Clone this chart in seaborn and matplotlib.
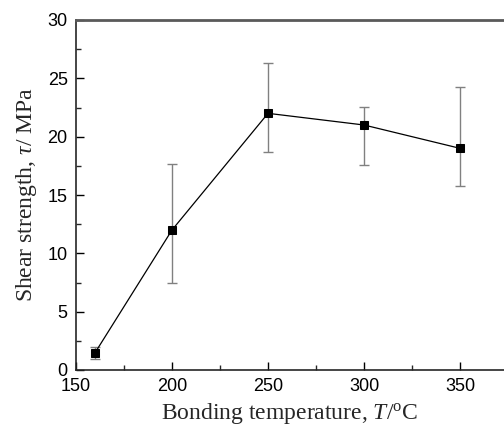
import pandas as pd
import seaborn as sns
import matplotlib.pyplot as plt
from matplotlib.ticker import MultipleLocator

# data
temperature = [160, 200, 250, 300, 350]
shear_strength = [1.5, 12.0, 22.0, 21.0, 19.0]
err_low = [0.95, 7.5, 18.65, 17.55, 15.8]
err_high = [2.0, 17.7, 26.3, 22.55, 24.3]

df = pd.DataFrame({"T": temperature, "tau": shear_strength})

sns.set_style("ticks")
plt.rcParams["font.family"] = ["Liberation Sans", "DejaVu Sans"]
plt.rcParams["mathtext.fontset"] = "custom"
plt.rcParams["mathtext.rm"] = "Liberation Serif"
plt.rcParams["mathtext.it"] = "Liberation Serif:italic"

fig = plt.figure(figsize=(5.04, 4.28), dpi=100)
ax = fig.add_axes([76 / 504, 1 - 370 / 428, 1 - 76 / 504, 350 / 428])

# error bars (grey, capped)
lower = [v - lo for v, lo in zip(shear_strength, err_low)]
upper = [hi - v for v, hi in zip(shear_strength, err_high)]
ax.errorbar(temperature, shear_strength, yerr=[lower, upper], fmt="none",
            ecolor="#808080", elinewidth=1.0, capsize=3.3, capthick=1.0, zorder=1)

# line with square markers
sns.lineplot(data=df, x="T", y="tau", ax=ax, color="black", linewidth=0.9,
             marker="s", markersize=5.5, markeredgecolor="black", zorder=3)

ax.set_xlim(150, 372.9)
ax.set_ylim(0, 30)
ax.xaxis.set_major_locator(MultipleLocator(50))
ax.xaxis.set_minor_locator(MultipleLocator(25))
ax.yaxis.set_major_locator(MultipleLocator(5))
ax.yaxis.set_minor_locator(MultipleLocator(2.5))
ax.tick_params(which="major", direction="in", length=6, width=1, labelsize=13,
               colors="black")
ax.tick_params(which="minor", direction="in", length=3.5, width=1)
ax.tick_params(axis="x", which="major", pad=6)
ax.tick_params(axis="y", which="major", pad=6)

ax.spines["right"].set_visible(False)
ax.spines["top"].set_color("#5a5a5a")
ax.spines["top"].set_linewidth(2)
ax.spines["left"].set_linewidth(1.2)
ax.spines["bottom"].set_linewidth(1.2)

ax.set_xlabel(r"Bonding temperature, $T$/$^{\rm o}$C",
              family="Liberation Serif", fontsize=17, labelpad=4)
ax.set_ylabel(r"Shear strength, $\tau$/ MPa",
              family="Liberation Serif", fontsize=17, labelpad=6)

fig.savefig("out.png", dpi=100)
